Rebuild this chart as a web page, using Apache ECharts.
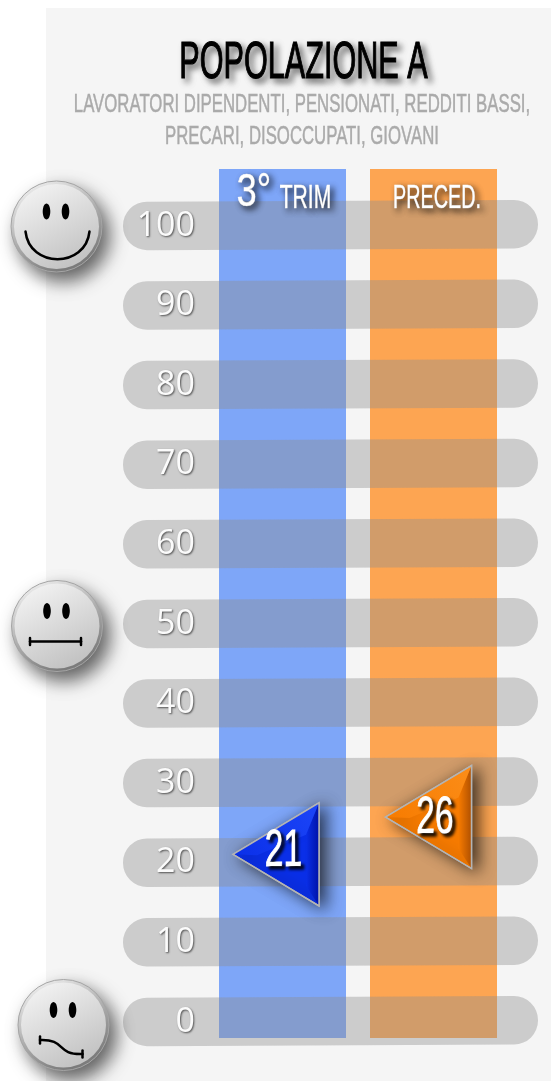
<!DOCTYPE html>
<html><head><meta charset="utf-8">
<style>html,body{margin:0;padding:0;background:#fff}#c{width:551px;height:1081px}</style>
<script src="https://cdn.jsdelivr.net/npm/echarts@6/dist/echarts.min.js"></script></head>
<body><div id="c"></div>
<script>
const titleText = 'POPOLAZIONE A';
const subtitleLines = ['LAVORATORI DIPENDENTI, PENSIONATI, REDDITI BASSI,', 'PRECARI, DISOCCUPATI, GIOVANI'];
const periods = ['3° TRIM', 'PRECED.'];
const scores = [21, 26];
const tickValues = [0, 10, 20, 30, 40, 50, 60, 70, 80, 90, 100];
const faceValues = [100, 50, 0];
const columnExtent = [-2.1, 107.1];

const NARROW = '"Liberation Sans Narrow","Liberation Sans",sans-serif';
const colFill = ['#7ea6f8', '#fda552'];
const markerColors = [
  {main:'#0a2fe8', light:'#1c45f8', dark:'#0012a8'},
  {main:'#f77b00', light:'#fb8d18', dark:'#b05000'}
];
const markerOffset = [[-6.5,-0.5],[-5,2]];
const faceLayout = {100:[56.5,0.5], 50:[57,2], 0:[63.5,3]};

const chart = echarts.init(document.getElementById('c'), null, {renderer:'canvas'});

function columnItem(p, api){
  const x = api.coord([api.value(0),0])[0];
  const top = api.coord([0,columnExtent[1]])[1];
  const bot = api.coord([0,columnExtent[0]])[1];
  return {type:'rect', shape:{x:x-63.5,y:Math.round(top),width:127,height:Math.round(bot-top)}, style:{fill:colFill[p.dataIndex]}};
}
function bandItem(p, api){
  const y = api.coord([0,api.value(0)])[1];
  const x0 = 123, x1 = 538, h = 48.5;
  return {type:'rect', originX:x0, originY:y, rotation:0.0045,
    shape:{x:x0,y:y-h/2,width:x1-x0,height:h,r:24}, style:{fill:'rgba(142,142,142,0.4)'}};
}
function headerItem(p, api){
  const pt = api.coord([p.dataIndex,columnExtent[1]]);
  const name = periods[p.dataIndex];
  const m = name.match(/^(\S+)\s(.+)$/);
  const shadow = {textShadowColor:'rgba(0,0,0,0.8)',textShadowBlur:6,textShadowOffsetX:3,textShadowOffsetY:3};
  const base = {fill:'#fff',stroke:'#fff',lineWidth:.7,fontFamily:NARROW,...shadow};
  if(m){
    return {type:'group',children:[
      {type:'text',x:pt[0]-28.5,y:pt[1]+46.5,scaleX:.78,style:{...base,text:m[1],fontSize:46,textAlign:'center',textVerticalAlign:'bottom',lineHeight:46}},
      {type:'text',x:pt[0]+23,y:pt[1]+46,scaleX:.64,style:{...base,text:m[2],fontSize:33,textAlign:'center',textVerticalAlign:'bottom',lineHeight:33}}
    ]};
  }
  return {type:'text',x:pt[0]+3.5,y:pt[1]+46,scaleX:.6,style:{...base,text:name,fontSize:33,textAlign:'center',textVerticalAlign:'bottom',lineHeight:33}};
}
function markerItem(p, api){
  const i = p.dataIndex;
  const pt = api.coord([i, api.value(1)]);
  const cx = pt[0]+markerOffset[i][0], cy = pt[1]+markerOffset[i][1];
  const c = markerColors[i];
  const hw = 43, hh = 51.5;
  const T=[cx-hw,cy], A=[cx+hw,cy-hh], B=[cx+hw,cy+hh];
  const Ti=[cx-hw+24,cy+1], Ai=[cx+hw-13,cy-hh+32], Bi=[cx+hw-13,cy+hh-20];
  const grad = (a,b,x0,y0,x1,y1)=>({type:'linear',x:x0,y:y0,x2:x1,y2:y1,colorStops:[{offset:0,color:a},{offset:1,color:b}]});
  return {type:'group',children:[
    {type:'polygon',shape:{points:[T,A,B]},style:{fill:c.main,stroke:'#b4b4b4',lineWidth:1.5,shadowColor:'rgba(0,0,0,0.7)',shadowBlur:16,shadowOffsetX:6,shadowOffsetY:3}},
    {type:'polygon',shape:{points:[A,B,Bi,Ai]},style:{fill:grad(c.main,c.dark,0,0,1,0)}},
    {type:'polygon',shape:{points:[T,A,Ai,Ti]},style:{fill:grad(c.main,c.light,0,1,1,0)}},
    {type:'polygon',shape:{points:[T,A,B]},style:{fill:'none',stroke:'#b4b4b4',lineWidth:1.5}},
    {type:'text',x:cx+(i?6.5:7.5),y:cy+(i?1.5:-2),scaleX:.66,style:{text:String(api.value(1)),fill:'#fff',stroke:'#fff',lineWidth:1,fontFamily:NARROW,fontSize:51,textAlign:'center',textVerticalAlign:'middle',
      textShadowColor:'rgba(0,0,0,0.95)',textShadowBlur:3,textShadowOffsetX:3,textShadowOffsetY:3}}
  ]};
}
function faceItem(p, api){
  const v = api.value(0);
  const y0 = api.coord([0,v])[1];
  const [cx,dy] = faceLayout[v];
  const cy = y0+dy, R = 45.5;
  const ink = {stroke:'#000',lineWidth:2.5,fill:'none',lineCap:'round'};
  const kids = [
    {type:'circle',shape:{cx,cy,r:R},style:{fill:{type:'linear',x:0,y:0,x2:0.5,y2:1,colorStops:[{offset:0,color:'#ffffff'},{offset:1,color:'#7d7d7d'}]},
      stroke:'#a5a5a5',lineWidth:1,shadowColor:'rgba(0,0,0,0.6)',shadowBlur:18,shadowOffsetX:7,shadowOffsetY:9}},
    {type:'circle',shape:{cx,cy,r:R-3},style:{fill:{type:'linear',x:0,y:0,x2:0.55,y2:1,colorStops:[{offset:0,color:'#f8f8f8'},{offset:1,color:'#c4c4c4'}]}}},
    {type:'ellipse',shape:{cx:cx-10,cy:cy-15,rx:3.8,ry:8},style:{fill:'#000'}},
    {type:'ellipse',shape:{cx:cx+9,cy:cy-15,rx:3.8,ry:8},style:{fill:'#000'}}
  ];
  if(v===100){
    kids.push({type:'bezierCurve',shape:{x1:cx-31,y1:cy+5,cpx1:cx-27,cpy1:cy+42,cpx2:cx+29,cpy2:cy+42,x2:cx+33,y2:cy+5},style:ink});
  } else if(v===50){
    kids.push({type:'line',shape:{x1:cx-27,y1:cy+15.5,x2:cx+24,y2:cy+15.5},style:ink});
    kids.push({type:'line',shape:{x1:cx-27,y1:cy+12,x2:cx-27,y2:cy+19},style:ink});
    kids.push({type:'line',shape:{x1:cx+24,y1:cy+12,x2:cx+24,y2:cy+19},style:ink});
  } else {
    kids.push({type:'bezierCurve',shape:{x1:cx-23.5,y1:cy+15,cpx1:cx+3,cpy1:cy+14,cpx2:cx-8,cpy2:cy+30,x2:cx+19,y2:cy+29},style:ink});
    kids.push({type:'line',shape:{x1:cx-23.5,y1:cy+11.5,x2:cx-23.5,y2:cy+18.5},style:ink});
    kids.push({type:'line',shape:{x1:cx+19,y1:cy+25.5,x2:cx+19,y2:cy+32.5},style:ink});
  }
  return {type:'group',children:kids};
}

chart.setOption({
  animation:false,
  backgroundColor:'#fff',
  grid:{left:207,right:42,top:226,bottom:59},
  xAxis:{type:'category',data:periods,boundaryGap:true,axisLine:{show:false},axisTick:{show:false},axisLabel:{show:false},splitLine:{show:false}},
  yAxis:{type:'value',min:0,max:100,interval:10,z:5,axisLine:{show:false},axisTick:{show:false},splitLine:{show:false},
    axisLabel:{margin:12,color:'#fbfbfb',fontFamily:'"Open Sans"',fontSize:34,align:'right',padding:[0,0,6,0],
      textShadowColor:'rgba(0,0,0,0.6)',textShadowBlur:2,textShadowOffsetX:1,textShadowOffsetY:1}},
  graphic:[
    {type:'rect',z:-1,silent:true,shape:{x:46,y:8,width:505,height:1073},style:{fill:'#f5f5f5'}},
    {type:'text',x:303.5,y:64,scaleX:.6,style:{text:titleText,fill:'#000',stroke:'#000',lineWidth:1.2,fontFamily:NARROW,fontSize:51,textAlign:'center',textVerticalAlign:'middle',
      textShadowColor:'rgba(0,0,0,0.55)',textShadowBlur:6,textShadowOffsetX:4,textShadowOffsetY:4}},
    {type:'text',x:302,y:104.5,scaleX:.645,style:{text:subtitleLines[0],fill:'#aaaaaa',stroke:'#aaaaaa',lineWidth:.5,fontFamily:NARROW,fontSize:26,textAlign:'center',textVerticalAlign:'middle'}},
    {type:'text',x:302,y:136.5,scaleX:.645,style:{text:subtitleLines[1],fill:'#aaaaaa',stroke:'#aaaaaa',lineWidth:.5,fontFamily:NARROW,fontSize:26,textAlign:'center',textVerticalAlign:'middle'}}
  ],
  series:[
    {type:'custom',name:'colonne',z:1,silent:true,data:periods.map((_,i)=>[i]),encode:{x:0},renderItem:columnItem},
    {type:'custom',name:'fasce',z:2,silent:true,data:tickValues.map(v=>[v]),encode:{y:0},renderItem:bandItem},
    {type:'custom',name:'intestazioni',z:3,silent:true,data:periods.map((_,i)=>[i]),encode:{x:0},renderItem:headerItem},
    {type:'custom',name:'punteggi',z:4,data:scores.map((v,i)=>[i,v]),encode:{x:0,y:1},renderItem:markerItem},
    {type:'custom',name:'facce',z:6,silent:true,data:faceValues.map(v=>[v]),encode:{y:0},renderItem:faceItem}
  ]
});
</script></body></html>
